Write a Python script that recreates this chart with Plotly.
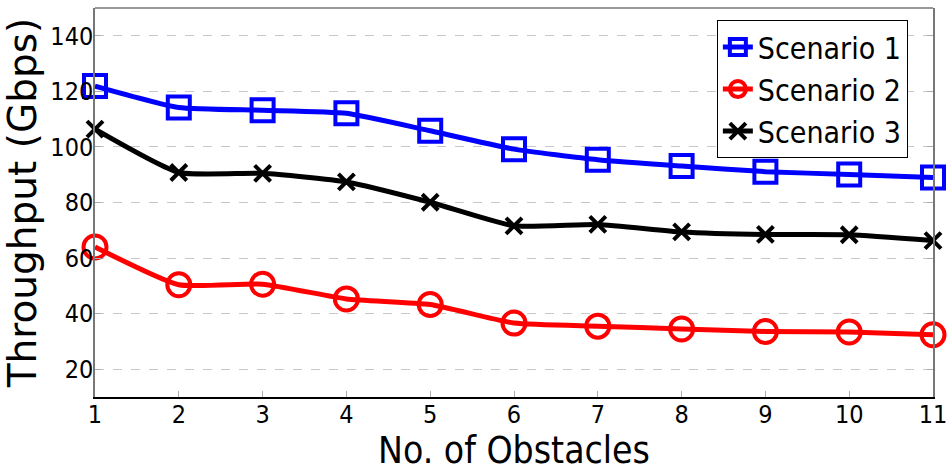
import plotly.graph_objects as go

obstacles = [1, 2, 3, 4, 5, 6, 7, 8, 9, 10, 11]
scenario1 = [121.9, 114.2, 113.2, 112.1, 105.8, 99.2, 95.4, 93.1, 91.1, 90.1, 89.0]
scenario2 = [64.0, 50.4, 50.6, 45.3, 43.3, 36.6, 35.5, 34.5, 33.6, 33.4, 32.4]
scenario3 = [106.4, 90.8, 90.5, 87.4, 80.1, 71.6, 72.1, 69.4, 68.5, 68.4, 66.3]
names = ["Scenario 1", "Scenario 2", "Scenario 3"]
y_ticks = [20, 40, 60, 80, 100, 120, 140]

NARROW = "DejaVu Sans Condensed"

fig = go.Figure()
styles = [
    ("#0000ff", "square-open", 22),
    ("#ff0000", "circle-open", 23),
    ("#000000", "x-thin-open", 16),
]
for name, ys, (col, sym, sz) in zip(names, [scenario1, scenario2, scenario3], styles):
    fig.add_trace(go.Scatter(
        x=obstacles, y=ys, name=name, mode="lines+markers",
        line=dict(color=col, width=5, shape="spline", smoothing=0.5),
        marker=dict(symbol=sym, size=sz, color=col, line=dict(color=col, width=4)),
        cliponaxis=False,
    ))

fig.update_layout(
    width=951, height=472,
    margin=dict(l=95, r=18, t=8, b=75, autoexpand=False),
    paper_bgcolor="white", plot_bgcolor="white",
    showlegend=True,
    legend=dict(
        x=0.970, y=0.969, xanchor="right", yanchor="top",
        bordercolor="black", borderwidth=1, bgcolor="white",
        font=dict(family=NARROW, size=30, color="black"),
        tracegroupgap=0, itemsizing="trace",
    ),
)
fig.update_xaxes(
    range=[1, 11], tickvals=obstacles, ticktext=[str(v) for v in obstacles],
    showgrid=False, zeroline=False, automargin=False,
    showline=True, linecolor="black", linewidth=1.5, mirror=False,
    ticks="inside", ticklen=6, tickcolor="#aaaaaa",
    ticklabelstandoff=-6,
    tickfont=dict(family=NARROW, size=25, color="black"),
    title=dict(text="No. of Obstacles", font=dict(family=NARROW, size=37, color="black"), standoff=0),
)
fig.update_yaxes(
    range=[10, 150], tickvals=y_ticks,
    showgrid=True, gridcolor="#c8c8c8", griddash="dash", gridwidth=1,
    zeroline=False, automargin=False,
    showline=True, linecolor="#777777", linewidth=1.5, mirror="ticks",
    ticks="inside", ticklen=6, tickcolor="#aaaaaa",
    ticklabelstandoff=-5,
    tickfont=dict(family=NARROW, size=25, color="black"),
    title=dict(text="Throughput (Gbps)", font=dict(family="DejaVu Sans", size=39, color="black"), standoff=2),
)
fig.add_shape(type="line", xref="paper", yref="paper", x0=0, x1=1, y0=1, y1=1,
              line=dict(color="#777777", width=1.5))
fig.write_html("out.html", config={"displayModeBar": False},
               post_script="document.body.style.margin='0';document.body.style.overflow='hidden';")
